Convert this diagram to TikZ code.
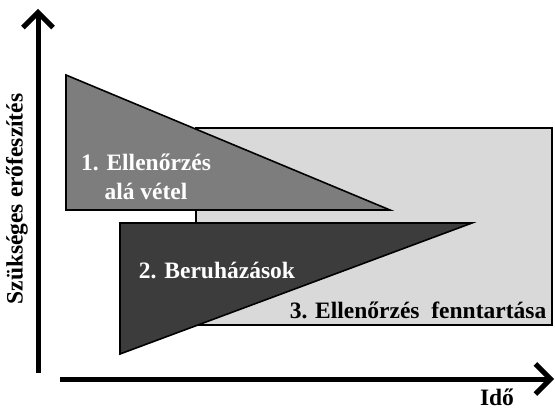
\documentclass[tikz,border=0pt]{standalone}
\usepackage{fontspec}
\setmainfont{Liberation Serif}
\usetikzlibrary{arrows.meta}
\definecolor{effmid}{RGB}{125,125,125}
\definecolor{effdark}{RGB}{60,60,60}
\definecolor{efflight}{RGB}{217,217,217}
\tikzset{
    phase/.style={draw=black, line width=1.6pt, line join=miter},
    axisline/.style={-{Straight Barb[length=15pt, width=30pt]}, line width=5pt},
    phaselbl/.style={font=\fontsize{23.5}{29}\selectfont\bfseries, align=center, inner sep=0pt},
    axislbl/.style={font=\fontsize{23.5}{26}\selectfont\bfseries, inner sep=0pt}
}
\begin{document}
\begin{tikzpicture}[x=1pt, y=-1pt]
    \useasboundingbox (0,0) rectangle (555,409);
    % fazisok
    \fill[efflight] (196,128) rectangle (552,325);
    \draw[phase] (196,128) rectangle (552,325);
    \draw[phase, fill=effmid] (66,75) -- (390,210) -- (66,210) -- cycle;
    \draw[phase, fill=effdark] (120,223) -- (472,223) -- (120,354) -- cycle;
    \node[phaselbl, text=white] (p1) at (146,177) {1. Ellenőrzés\\alá vétel};
    \node[phaselbl, text=white] (p2) at (217,271) {2. Beruházások};
    \node[phaselbl] (p3) at (418,310) {3. Ellenőrzés\ \ fenntartása};
    % tengelyek
    \coordinate (y0) at (38,373);
    \coordinate (y1) at (38,9);
    \coordinate (x0) at (60,379);
    \coordinate (x1) at (554,379);
    \draw[axisline] (y0) -- (y1);
    \draw[axisline] (x0) -- (x1);
    \node[axislbl, rotate=90] (ylab) at (17,199) {Szükséges erőfeszítés};
    \node[axislbl] (xlab) at (497,397) {Idő};
\end{tikzpicture}
\end{document}
